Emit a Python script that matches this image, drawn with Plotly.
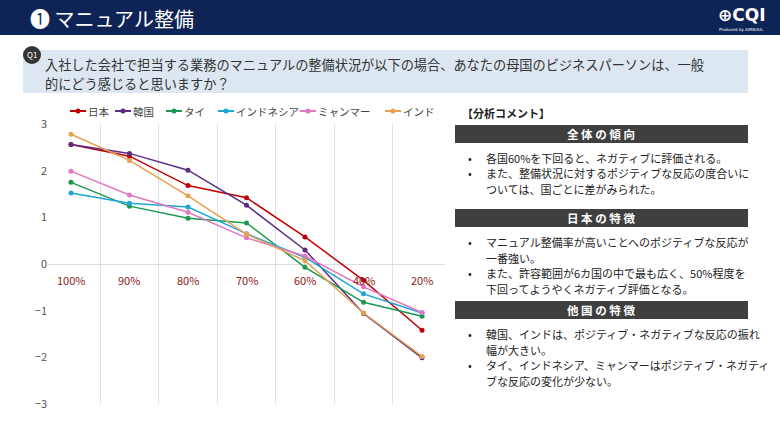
import plotly.graph_objects as go

categories = ["100%", "90%", "80%", "70%", "60%", "40%", "20%"]
series_names = ["日本", "韓国", "タイ", "インドネシア", "ミャンマー", "インド"]
japan = [2.56, 2.31, 1.68, 1.42, 0.58, -0.35, -1.42]
korea = [2.56, 2.37, 2.01, 1.26, 0.30, -1.06, -2.01]
thai = [1.75, 1.24, 0.98, 0.88, -0.07, -0.82, -1.12]
indonesia = [1.52, 1.30, 1.22, 0.65, 0.14, -0.64, -1.05]
myanmar = [1.99, 1.48, 1.11, 0.56, 0.17, -0.49, -1.04]
india = [2.78, 2.22, 1.46, 0.64, 0.07, -1.05, -1.98]
y_ticks = [-3, -2, -1, 0, 1, 2, 3]
colors = ["#c00000", "#5b2c83", "#1a9850", "#1ea5d8", "#e377c2", "#e8a050"]

W, H = 780, 421
FONT = "Noto Sans CJK JP"
def px(x): return x / W
def py(y): return 1 - y / H

fig = go.Figure()
for name, vals, c in zip(series_names, [japan, korea, thai, indonesia, myanmar, india], colors):
    fig.add_trace(go.Scatter(x=categories, y=vals, name=name, mode="lines+markers", showlegend=False,
                             line=dict(color=c, width=1.5), marker=dict(size=5, color=c)))

shapes = []
annotations = []
def note(x, y, text, size, color, xanchor="left", family=FONT):
    annotations.append(dict(xref="paper", yref="paper", x=px(x), y=py(y), xanchor=xanchor, yanchor="middle",
                            text=text, showarrow=False, font=dict(color=color, size=size, family=family)))

# header
shapes.append(dict(type="rect", xref="paper", yref="paper", x0=0, x1=1, y0=py(35), y1=1,
                   fillcolor="#0f2456", line_width=0, layer="below"))
note(28, 18, "❶ マニュアル整備", 20, "white")
note(768, 15, "<b>⊕CQI</b>", 17, "white", "right", "DejaVu Sans")
note(766, 29, "Produced by AIMSOUL", 4, "white", "right", "DejaVu Sans")
# question box
shapes.append(dict(type="rect", xref="paper", yref="paper", x0=px(23), x1=px(748), y0=py(93), y1=py(50),
                   fillcolor="#dde7f1", line_width=0, layer="below"))
shapes.append(dict(type="circle", xref="paper", yref="paper", x0=px(23), x1=px(41), y0=py(64), y1=py(46),
                   fillcolor="#333333", line_width=0, layer="below"))
note(32, 55, "Q1", 8, "white", "center")
q_lines = ["入社した会社で担当する業務のマニュアルの整備状況が以下の場合、あなたの母国のビジネスパーソンは、一般",
           "的にどう感じると思いますか？"]
for i, t in enumerate(q_lines):
    note(43, 65 + 18 * i, t, 13.2, "#333333")
# category labels at zero line
for c in categories:
    annotations.append(dict(x=c, y=0, yshift=-16, text=c, showarrow=False, xref="x", yref="y",
                            font=dict(color="#8b1a1a", size=11, family=FONT)))
# custom legend
leg_x = [70, 115, 166, 218, 300, 385]
for name, c, lx in zip(series_names, colors, leg_x):
    shapes.append(dict(type="line", xref="paper", yref="paper", x0=px(lx), x1=px(lx + 16), y0=py(111), y1=py(111),
                       line=dict(color=c, width=2)))
    shapes.append(dict(type="circle", xref="paper", yref="paper", x0=px(lx + 5.5), x1=px(lx + 10.5),
                       y0=py(113.5), y1=py(108.5), fillcolor=c, line_width=0))
    note(lx + 16, 111, name, 10.5, "#444")
# right panel
note(460, 113, "<b>【分析コメント】</b>", 11, "#222")
sections = [
    ("全 体 の 傾 向", 125, [["各国60%を下回ると、ネガティブに評価される。"],
                         ["また、整備状況に対するポジティブな反応の度合いに", "ついては、国ごとに差がみられた。"]]),
    ("日 本 の 特 徴", 209, [["マニュアル整備率が高いことへのポジティブな反応が", "一番強い。"],
                         ["また、許容範囲が6カ国の中で最も広く、50%程度を", "下回ってようやくネガティブ評価となる。"]]),
    ("他 国 の 特 徴", 301, [["韓国、インドは、ポジティブ・ネガティブな反応の振れ", "幅が大きい。"],
                         ["タイ、インドネシア、ミャンマーはポジティブ・ネガティ", "ブな反応の変化が少ない。"]]),
]
for title, y0, bullets in sections:
    shapes.append(dict(type="rect", xref="paper", yref="paper", x0=px(455), x1=px(748), y0=py(y0 + 18), y1=py(y0),
                       fillcolor="#3f3f3f", line_width=0, layer="below"))
    note(601, y0 + 9, "<b>" + title + "</b>", 11.5, "white", "center")
    ty = y0 + 33
    for b in bullets:
        note(466, ty, "•", 11, "#222")
        for line in b:
            note(484, ty, line, 11, "#222")
            ty += 15.5

fig.update_layout(
    width=W, height=H, margin=dict(l=0, r=0, t=0, b=0, autoexpand=False),
    paper_bgcolor="white", plot_bgcolor="white",
    font=dict(family=FONT, color="#555"),
    shapes=shapes, annotations=annotations, showlegend=False,
    xaxis=dict(domain=[px(48), px(445)], type="category", tickson="boundaries", showgrid=True, automargin=False,
               gridcolor="#e3e3e3", showticklabels=False, ticks="", showline=False, zeroline=False),
    yaxis=dict(domain=[py(404), py(124)], range=[-3, 3], tickvals=y_ticks, showgrid=False, automargin=False,
               zeroline=True, zerolinecolor="#dddddd", zerolinewidth=1,
               tickfont=dict(size=11, color="#555"), ticks=""),
)
fig.write_html("out.html", config={"displayModeBar": False},
               post_script="document.body.style.margin='0';")
